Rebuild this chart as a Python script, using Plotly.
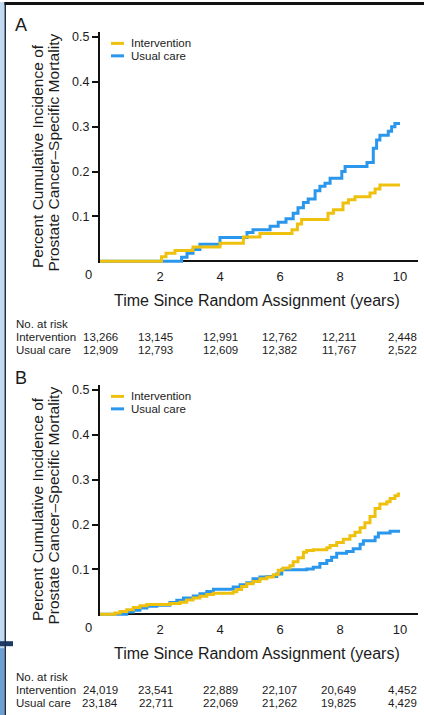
import plotly.graph_objects as go

# ---------------- data ----------------
# Panel A: cumulative incidence (%) step curves
a_int_t = [0, 2.05, 2.2, 2.5, 3.1, 4.0, 4.78, 5.33, 6.4, 6.58, 6.72, 7.6, 7.78, 8.1, 8.28, 8.5, 9.0, 9.17, 9.33, 10.0]
a_int_y = [0, 0.010, 0.018, 0.024, 0.032, 0.040, 0.054, 0.062, 0.070, 0.083, 0.093, 0.107, 0.115, 0.130, 0.137, 0.144, 0.152, 0.161, 0.170, 0.170]
a_uc_t = [0, 2.72, 2.9, 3.1, 3.33, 4.0, 4.9, 5.1, 5.67, 5.94, 6.2, 6.44, 6.6, 6.78, 6.94, 7.17, 7.33, 7.5, 7.67,
          8.06, 8.17, 8.9, 9.11, 9.22, 9.33, 9.61, 9.72, 9.83, 10.0]
a_uc_y = [0, 0.009, 0.018, 0.026, 0.038, 0.053, 0.064, 0.070, 0.078, 0.087, 0.095, 0.107, 0.119, 0.131, 0.139, 0.157,
          0.167, 0.174, 0.185, 0.200, 0.211, 0.220, 0.252, 0.270, 0.281, 0.290, 0.300, 0.307, 0.307]

# Panel B
b_int_t = [0, 0.5, 0.67, 0.89, 1.11, 1.33, 1.56, 2.33, 2.67, 2.89, 3.1, 3.33, 3.56, 3.78, 4.44, 4.56, 4.72, 4.89,
           5.1, 5.33, 5.56, 5.78, 5.94, 6.1, 6.33, 6.44, 6.6, 6.78, 6.89, 7.11, 7.56, 7.67, 7.89, 8.11, 8.33, 8.5,
           8.67, 8.83, 9.0, 9.17, 9.33, 9.56, 9.67, 9.83, 9.94, 10.0]
b_int_y = [0, 0.003, 0.006, 0.010, 0.015, 0.019, 0.022, 0.024, 0.027, 0.032, 0.036, 0.040, 0.044, 0.047, 0.050,
           0.055, 0.062, 0.068, 0.073, 0.079, 0.083, 0.088, 0.098, 0.103, 0.108, 0.117, 0.126, 0.138, 0.142, 0.144,
           0.148, 0.153, 0.160, 0.167, 0.175, 0.183, 0.193, 0.204, 0.218, 0.236, 0.246, 0.251, 0.258, 0.264, 0.268,
           0.268]
b_uc_t = [0, 0.89, 1.11, 1.33, 1.56, 1.89, 2.33, 2.56, 2.78, 3.11, 3.33, 3.56, 3.78, 4.44, 4.67, 4.89, 5.1, 5.33,
          5.56, 5.89, 6.06, 6.89, 7.11, 7.33, 7.56, 7.72, 7.89, 8.22, 8.44, 8.67, 8.78, 9.17, 9.28, 9.67, 10.0]
b_uc_y = [0, 0.005, 0.009, 0.014, 0.018, 0.020, 0.026, 0.031, 0.036, 0.041, 0.046, 0.051, 0.056, 0.061, 0.066,
          0.070, 0.079, 0.083, 0.084, 0.090, 0.099, 0.101, 0.105, 0.113, 0.120, 0.127, 0.136, 0.140, 0.146, 0.156,
          0.164, 0.172, 0.181, 0.185, 0.185]

# Numbers at risk
risk_times = [0, 2, 4, 6, 8, 10]
a_risk_int = ["13,266", "13,145", "12,991", "12,762", "12,211", "2,448"]
a_risk_uc = ["12,909", "12,793", "12,609", "12,382", "11,767", "2,522"]
b_risk_int = ["24,019", "23,541", "22,889", "22,107", "20,649", "4,452"]
b_risk_uc = ["23,184", "22,711", "22,069", "21,262", "19,825", "4,429"]

y_ticks = [0.1, 0.2, 0.3, 0.4, 0.5]
x_ticks = [2, 4, 6, 8, 10]
series_names = ["Intervention", "Usual care"]

# ---------------- styling ----------------
W, H = 424, 715
C_INT = "#EFC10F"
C_UC = "#2B97EC"
INK = "#1b1b1b"
SANS = "Liberation Sans, Arial, sans-serif"
TITLE = "Liberation Sans, Arial, sans-serif"

def px(x):
    return x / W

def py(y):
    return 1 - y / H

Y_PER_UNIT = 450.0      # pixels per unit on the y axes
X0, X_PER_UNIT = 100.0, 30.0
X_RANGE = [0, 10.6]
Y_RANGE = [-0.004, 0.51]
zero_rows = {"A": 260.0, "B": 614.0}   # pixel row of y = 0 in each panel

fig = go.Figure()

panels = [
    ("A", "x", "y", a_int_t, a_int_y, a_uc_t, a_uc_y, a_risk_int, a_risk_uc),
    ("B", "x2", "y2", b_int_t, b_int_y, b_uc_t, b_uc_y, b_risk_int, b_risk_uc),
]

annotations = []
shapes = []

for label, xa, ya, it, iy, ut, uy, r_int, r_uc in panels:
    fig.add_trace(go.Scatter(x=ut, y=uy, mode="lines", line=dict(color=C_UC, width=3, shape="hv"),
                             xaxis=xa, yaxis=ya, name=series_names[1], showlegend=False))
    fig.add_trace(go.Scatter(x=it, y=iy, mode="lines", line=dict(color=C_INT, width=3, shape="hv"),
                             xaxis=xa, yaxis=ya, name=series_names[0], showlegend=False))

    z = zero_rows[label]
    bottom = z - Y_RANGE[0] * Y_PER_UNIT
    top = z - Y_RANGE[1] * Y_PER_UNIT
    x_dom = [px(X0), px(X0 + X_RANGE[1] * X_PER_UNIT)]
    y_dom = [py(bottom), py(top)]
    xkey = "xaxis" if xa == "x" else "xaxis2"
    ykey = "yaxis" if ya == "y" else "yaxis2"
    fig.update_layout(**{
        xkey: dict(domain=x_dom, range=X_RANGE, anchor=ya, showgrid=False, zeroline=False, showline=False,
                   tickvals=x_ticks, ticktext=[str(v) for v in x_ticks], ticks="", ticklabelstandoff=4,
                   tickfont=dict(family=SANS, size=13, color=INK), fixedrange=True),
        ykey: dict(domain=y_dom, range=Y_RANGE, anchor=xa, showgrid=False, zeroline=True,
                   zerolinecolor="#111", zerolinewidth=2, showline=True, linecolor="#111", linewidth=2,
                   layer="below traces",
                   tickvals=y_ticks, ticktext=["%.1f" % v for v in y_ticks], ticks="outside", ticklen=6,
                   tickwidth=1.5, tickcolor="#111", tickfont=dict(family=SANS, size=12.5, color=INK),
                   fixedrange=True),
    })

    # corner "0" label
    annotations.append(dict(text="0", x=px(88), y=py(z + 13), xref="paper", yref="paper", showarrow=False,
                            xanchor="center", yanchor="middle", font=dict(family=SANS, size=13, color=INK)))
    # panel letter
    annotations.append(dict(text=label, x=px(21), y=py(z - 237), xref="paper",
                            yref="paper", showarrow=False, xanchor="center", yanchor="middle",
                            font=dict(family=SANS, size=18, color=INK)))
    # axis titles
    annotations.append(dict(text="Time Since Random Assignment (years)", x=px(257), y=py(z + 39), xref="paper",
                            yref="paper", showarrow=False, xanchor="center", yanchor="middle",
                            font=dict(family=TITLE, size=16, color=INK)))
    annotations.append(dict(text="Percent Cumulative Incidence of", x=px(37.5), y=py(z - 105), xref="paper",
                            yref="paper", showarrow=False, textangle=-90, xanchor="center", yanchor="middle",
                            font=dict(family=TITLE, size=15.5, color=INK)))
    annotations.append(dict(text="Prostate Cancer\u2013Specific Mortality", x=px(54), y=py(z - 109), xref="paper",
                            yref="paper", showarrow=False, textangle=-90, xanchor="center", yanchor="middle",
                            font=dict(family=TITLE, size=15.5, color=INK)))

    # legend
    for k, (name, col) in enumerate(zip(series_names, [C_INT, C_UC])):
        yy = z - 218.5 + k * 12.5
        shapes.append(dict(type="line", xref="paper", yref="paper", x0=px(111), x1=px(124), y0=py(yy), y1=py(yy),
                           line=dict(color=col, width=3)))
        annotations.append(dict(text=name, x=px(129), y=py(yy), xref="paper", yref="paper", showarrow=False,
                                xanchor="left", yanchor="middle", font=dict(family=SANS, size=11.5, color=INK)))

    # numbers at risk table
    t0 = z + 63
    annotations.append(dict(text="No. at risk", x=px(14), y=py(t0), xref="paper", yref="paper",
                            showarrow=False, xanchor="left", yanchor="middle",
                            font=dict(family=SANS, size=11.5, color=INK)))
    col_shift = [0, -4.5, 0, -0.5, -1.5, 2.5]
    for r, (name, row) in enumerate(zip(series_names, [r_int, r_uc])):
        yy = t0 + 13 + r * 12.8
        annotations.append(dict(text=name, x=px(14), y=py(yy), xref="paper", yref="paper", showarrow=False,
                                xanchor="left", yanchor="middle", font=dict(family=SANS, size=11.5, color=INK)))
        for t, val, sh in zip(risk_times, row, col_shift):
            annotations.append(dict(text=val, x=t, xref=xa, y=py(yy), yref="paper", showarrow=False,
                                    xanchor="center", yanchor="middle", xshift=sh,
                                    font=dict(family=SANS, size=11.5, color=INK)))

# page frame: light blue edge strip, its rule, and the dark top rule
shapes += [
    dict(type="rect", xref="paper", yref="paper", x0=0, x1=px(4.5), y0=0, y1=1, line_width=0,
         fillcolor="#C2DAF0", layer="below"),
    dict(type="rect", xref="paper", yref="paper", x0=0, x1=px(4.5), y0=0, y1=py(648), line_width=0,
         fillcolor="#6E9FD3", layer="below"),
    dict(type="rect", xref="paper", yref="paper", x0=0, x1=px(13), y0=py(646), y1=py(641), line_width=0,
         fillcolor="#1E3A66", layer="below"),
    dict(type="rect", xref="paper", yref="paper", x0=px(4.5), x1=px(6), y0=0, y1=1, line_width=0,
         fillcolor="#1F2C45", layer="below"),
    dict(type="rect", xref="paper", yref="paper", x0=px(4.5), x1=1, y0=py(3), y1=1, line_width=0,
         fillcolor="#111111", layer="below"),
]

fig.update_layout(
    width=W, height=H, margin=dict(l=0, r=0, t=0, b=0),
    paper_bgcolor="white", plot_bgcolor="white",
    showlegend=False, annotations=annotations, shapes=shapes,
)

fig.write_html("out.html")
